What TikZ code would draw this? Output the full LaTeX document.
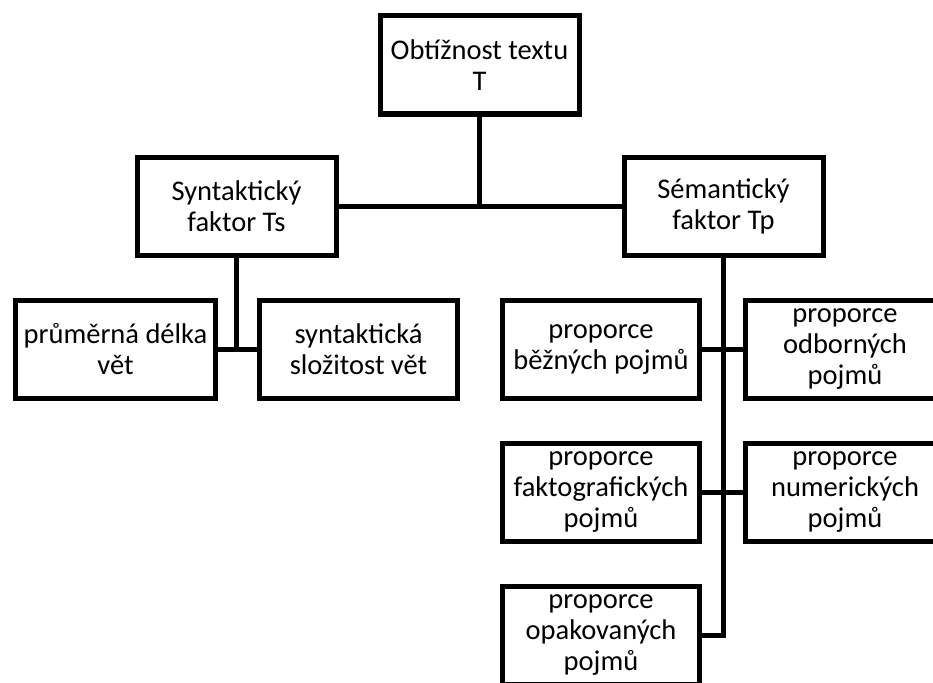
\documentclass[tikz,border=0pt]{standalone}
\usepackage{fontspec}
\setmainfont{Carlito}
\begin{document}
\begin{tikzpicture}[x=1pt,y=-1pt,
  box/.style={draw=black,line width=5pt,fill=white,minimum width=199pt,minimum height=98pt,
    inner sep=0pt,align=center,font=\fontsize{28.5}{31}\selectfont},
  link/.style={draw=black,line width=5pt}]
\useasboundingbox (0,0) rectangle (933,682);
\clip (0,0) rectangle (933,682);
\fill[white] (0,0) rectangle (933,682);
\node[box] (top) at (479.5,65) {Obtížnost textu\\T};
\node[box] (syn) at (236.5,206) {Syntaktický\\faktor Ts};
\node[box] (sem) at (723.5,206) {Sémantický\\faktor Tp};
\node[box,minimum width=200pt] (prum) at (115.5,349.5) {průměrná délka\\vět};
\node[box,minimum width=198pt] (synt) at (358.5,349.5) {syntaktická\\složitost vět};
\node[box,minimum width=197pt] (bez) at (601,349.5) {proporce\\běžných pojmů};
\node[box] (odb) at (845,349.5) {proporce\\odborných\\pojmů};
\node[box,minimum width=197pt] (fakt) at (601,492.5) {proporce\\faktografických\\pojmů};
\node[box] (num) at (845,492.5) {proporce\\numerických\\pojmů};
\node[box,minimum width=197pt] (opak) at (601,635.5) {proporce\\opakovaných\\pojmů};
\draw[link] (syn.east) -- (sem.west);
\draw[link] (top.south) -- (top.south |- syn.east);
\draw[link] (syn.south) -- (syn.south |- prum.east);
\draw[link] (prum.east) -- (synt.west);
\draw[link] (sem.south) |- (opak.east);
\draw[link] (bez.east) -- (odb.west);
\draw[link] (fakt.east) -- (num.west);
\end{tikzpicture}
\end{document}
